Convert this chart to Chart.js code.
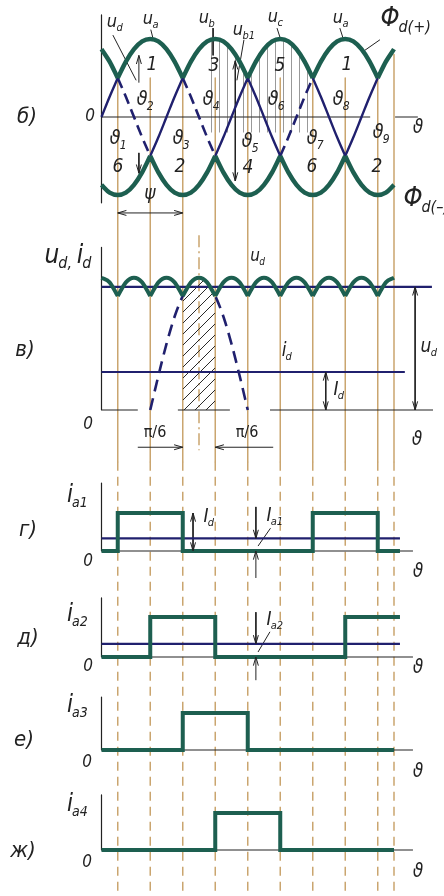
<!DOCTYPE html>
<html>
<head>
<meta charset="utf-8">
<script src="https://cdn.jsdelivr.net/npm/chart.js@4.4.1/dist/chart.umd.min.js"></script>
<style>
  html, body { margin: 0; padding: 0; background: #fff; overflow: hidden; }
  canvas { display: block; }
</style>
</head>
<body>
<canvas id="diagram" width="444" height="896"></canvas>
<script>
// ---------- waveform data (angles in electrical degrees) ----------
const STEP = 15;                      // sample spacing of the phase waveform
const thetaRange = [0, 540];
// one period of a phase voltage, per unit of its peak, every 15°
const phaseWave = [0, 0.26, 0.5, 0.71, 0.87, 0.97, 1, 0.97, 0.87, 0.71, 0.5, 0.26,
                   0, -0.26, -0.5, -0.71, -0.87, -0.97, -1, -0.97, -0.87, -0.71, -0.5, -0.26];
const phaseLag = { a: 0, b: 120, c: 240 };
const guideAngles = [30, 90, 150, 210, 270, 330, 390, 450, 510, 540];
const innerLimit = 510;               // inner phase segments start before this angle
const dashedInner = [30, 150, 330];   // inner segments drawn dashed (by start angle)
const humpPair = ['b', 'c'];          // line voltage u_b - u_c shown in panel в
const humpSpan = [90, 270];
const hatchSpanV = [150, 210];        // conduction area hatched in panel в
const hatchSpanB = [195, 390];        // voltage area hatched in panel б
const hatchFloorB = -0.2;
const udMean = 1.62;                  // rectified voltage level U_d
const idLevel = 0.5;                  // load current level I_d
const iaMean = 0.33;                  // mean valve current I_a = I_d / 3
const ia1 = [[0, 0], [30, 1], [150, 0], [390, 1], [510, 0], [551, 0]];
const ia2 = [[0, 0], [90, 1], [210, 0], [450, 1], [551, 1]];
const ia3 = [[0, 0], [150, 1], [270, 0], [540, 0]];
const ia4 = [[0, 0], [210, 1], [330, 0], [540, 0]];

// ---------- page layout ----------
const W = 444, H = 896;
const X_ZERO_PX = 101.5, PX_PER_DEG = 195 / 360;
const PANELS = {
  yB: { zero: 117, unit: 78 },
  yV: { zero: 410, unit: 76 },
  yG: { zero: 551, unit: 38 },
  yD: { zero: 657, unit: 40 },
  yE: { zero: 750, unit: 37 },
  yZ: { zero: 850, unit: 37 }
};
const C = { green: '#1d5f50', navy: '#20206e', tan: '#caa56f', ink: '#222' };
const FONT = '"Liberation Sans Narrow","DejaVu Sans Condensed","DejaVu Sans",sans-serif';

// ---------- derived series ----------
const thetas = [];
for (let t = thetaRange[0]; t <= thetaRange[1]; t += STEP) thetas.push(t);
const keys = Object.keys(phaseLag);
const N = phaseWave.length;
const phase = (p, t) => phaseWave[((((t - phaseLag[p]) / STEP) % N) + N) % N];
const topEnv = t => Math.max(...keys.map(p => phase(p, t)));
const botEnv = t => Math.min(...keys.map(p => phase(p, t)));
const ud = t => topEnv(t) - botEnv(t);
const EPS = 1e-9;

function toData(segs, f) {
  const out = [];
  segs.forEach((s, i) => {
    if (i) out.push({ x: s[0], y: null });
    s.forEach(t => out.push({ x: t, y: f(t) }));
  });
  return out;
}
function pairs(list) {
  const out = [];
  list.forEach((s, i) => {
    if (i) out.push({ x: s[0][0], y: null });
    out.push({ x: s[0][0], y: s[0][1] }, { x: s[1][0], y: s[1][1] });
  });
  return out;
}
function arcsOf(pred) {
  const segs = [];
  keys.forEach(p => {
    let cur = null;
    thetas.forEach(t => {
      if (pred(p, t)) { if (!cur) { cur = []; segs.push(cur); } cur.push(t); }
      else cur = null;
    });
  });
  return segs.filter(s => s.length > 1).sort((a, b) => a[0] - b[0]);
}
const topArcs = arcsOf((p, t) => phase(p, t) >= topEnv(t) - EPS);
const botArcs = arcsOf((p, t) => phase(p, t) <= botEnv(t) + EPS);
const onTop = (p, t) => Math.abs(phase(p, t) - topEnv(t)) < EPS;
const onBot = (p, t) => Math.abs(phase(p, t) - botEnv(t)) < EPS;

// parts of each phase lying between the two envelopes
const innerArcs = [];
keys.forEach(p => {
  let cur = null;
  thetas.forEach((t, i) => {
    const inside = !onTop(p, t) && !onBot(p, t);
    if (inside) {
      if (!cur) { cur = { p, pts: i > 0 ? [thetas[i - 1]] : [] }; innerArcs.push(cur); }
      cur.pts.push(t);
    } else if (cur) { cur.pts.push(t); cur = null; }
  });
});
const innerKept = innerArcs.filter(a => a.pts[0] < innerLimit).sort((a, b) => a.pts[0] - b.pts[0]);
function innerData(dashed) {
  const out = [];
  innerKept.filter(a => dashedInner.includes(a.pts[0]) === dashed).forEach((a, i) => {
    if (i) out.push({ x: a.pts[0], y: null });
    a.pts.forEach(t => out.push({ x: t, y: phase(a.p, t) }));
  });
  return out;
}

// ripple of the rectified voltage, split at commutation cusps
const isCusp = t => keys.filter(p => onTop(p, t)).length > 1 || keys.filter(p => onBot(p, t)).length > 1;
const rippleArcs = [];
{
  let cur = [];
  thetas.forEach(t => {
    cur.push(t);
    if (isCusp(t) && cur.length > 1) { rippleArcs.push(cur); cur = [t]; }
  });
  if (cur.length > 1) rippleArcs.push(cur);
}
const within = (span) => thetas.filter(t => t >= span[0] && t <= span[1]);

// ---------- drawing aids: axes, guides, arrows, leaders ----------
const axes = {
  yB: [[[0, 1.31], [0, -1.10]], [[0, 0], [496, 0]], [[542, 0], [584, 0]]],
  yV: [[[0, 2.14], [0, 0]], [[0, 0], [67, 0]], [[141, 0], [237, 0]], [[311, 0], [612, 0]]],
  yG: [[[0, 1.79], [0, 0]], [[0, 0], [575, 0]]],
  yD: [[[0, 1.48], [0, 0]], [[0, 0], [575, 0]]],
  yE: [[[0, 1.43], [0, 0]], [[0, 0], [575, 0]]],
  yZ: [[[0, 1.49], [0, 0]], [[0, 0], [575, 0]]]
};
const levels = {
  yV: [[[0, udMean], [610, udMean]], [[0, idLevel], [560, idLevel]]],
  yG: [[[0, iaMean], [551, iaMean]]],
  yD: [[[0, iaMean], [551, iaMean]]]
};
const GUIDE_SPLIT = -4.42;   // where guides turn dashed (panel б units)
const arrows = [
  { axis: 'yB', from: [69, 0.44], to: [69, 0.79], heads: 'end' },
  { axis: 'yB', from: [69, -0.46], to: [69, -0.72], heads: 'end' },
  { axis: 'yB', from: [247, 0.72], to: [247, -0.82], heads: 'both' },
  { axis: 'yB', from: [30, -1.23], to: [150, -1.23], heads: 'both' },
  { axis: 'yV', from: [67, -0.49], to: [150, -0.49], heads: 'end' },
  { axis: 'yV', from: [317, -0.49], to: [210, -0.49], heads: 'end' },
  { axis: 'yV', from: [414, idLevel], to: [414, 0], heads: 'both' },
  { axis: 'yV', from: [579, udMean], to: [579, 0], heads: 'both' },
  { axis: 'yG', from: [169, 1], to: [169, 0], heads: 'both' },
  { axis: 'yG', from: [285, 1.16], to: [285, iaMean], heads: 'end' },
  { axis: 'yG', from: [285, -0.71], to: [285, 0], heads: 'end' },
  { axis: 'yD', from: [285, 1.12], to: [285, iaMean], heads: 'end' },
  { axis: 'yD', from: [285, -0.58], to: [285, 0], heads: 'end' }
];
const leaders = [
  { axis: 'yB', from: [21, 1.05], to: [64, 0.47] },
  { axis: 'yB', from: [91, 1.12], to: [95, 1.01] },
  { axis: 'yB', from: [206, 1.14], to: [206, 0.79] },
  { axis: 'yB', from: [263, 0.99], to: [250, 0.47] },
  { axis: 'yB', from: [324, 1.14], to: [330, 1.01] },
  { axis: 'yB', from: [440, 1.14], to: [446, 1.01] },
  { axis: 'yB', from: [514, 0.99], to: [481, 0.83] },
  { axis: 'yG', from: [289, 0.13], to: [312, 0.6] },
  { axis: 'yD', from: [289, 0.125], to: [311, 0.63] }
];

// ---------- text ----------
const labels = [
  // panel б
  { x: 27, y: 117, t: 'б)', s: 22 },
  { x: 90, y: 117, t: '0', s: 17 },
  { x: 418, y: 128, t: 'ϑ', s: 19 },
  { x: 112, y: 22, t: 'u', sub: 'd' },
  { x: 148, y: 19, t: 'u', sub: 'a' },
  { x: 204, y: 18, t: 'u', sub: 'b' },
  { x: 238, y: 30, t: 'u', sub: 'b1' },
  { x: 273, y: 17, t: 'u', sub: 'c' },
  { x: 338, y: 18, t: 'u', sub: 'a' },
  { x: 390, y: 19, t: 'Φ', sub: 'd(+)', s: 27 },
  { x: 413, y: 199, t: 'Φ', sub: 'd(–)', s: 27 },
  { x: 152, y: 65, t: '1', s: 19 }, { x: 214, y: 66, t: '3', s: 19 },
  { x: 280, y: 66, t: '5', s: 19 }, { x: 347, y: 65, t: '1', s: 19 },
  { x: 142, y: 100, t: 'ϑ', sub: '2', s: 20 }, { x: 208, y: 100, t: 'ϑ', sub: '4', s: 20 },
  { x: 273, y: 100, t: 'ϑ', sub: '6', s: 20 }, { x: 338, y: 100, t: 'ϑ', sub: '8', s: 20 },
  { x: 115, y: 139, t: 'ϑ', sub: '1', s: 20 }, { x: 178, y: 139, t: 'ϑ', sub: '3', s: 20 },
  { x: 247, y: 142, t: 'ϑ', sub: '5', s: 20 }, { x: 312, y: 139, t: 'ϑ', sub: '7', s: 20 },
  { x: 378, y: 133, t: 'ϑ', sub: '9', s: 20 },
  { x: 118, y: 167, t: '6', s: 19 }, { x: 180, y: 167, t: '2', s: 19 },
  { x: 248, y: 168, t: '4', s: 19 }, { x: 312, y: 167, t: '6', s: 19 },
  { x: 377, y: 167, t: '2', s: 19 },
  { x: 150, y: 194, t: 'ψ', s: 19 },
  // panel в
  { x: 52, y: 256, t: 'u', sub: 'd,', s: 26 },
  { x: 80, y: 256, t: 'i', sub: 'd', s: 26 },
  { x: 255, y: 257, t: 'u', sub: 'd', s: 17 },
  { x: 25, y: 350, t: 'в)', s: 22 },
  { x: 284, y: 351, t: 'i', sub: 'd', s: 19 },
  { x: 336, y: 390, t: 'I', sub: 'd', s: 19 },
  { x: 426, y: 347, t: 'u', sub: 'd', s: 19 },
  { x: 88, y: 425, t: '0', s: 17 },
  { x: 155, y: 433, t: 'π/6', s: 16, upright: true },
  { x: 247, y: 433, t: 'π/6', s: 16, upright: true },
  { x: 417, y: 440, t: 'ϑ', s: 19 },
  // panel г
  { x: 70, y: 496, t: 'i', sub: 'a1', s: 24 },
  { x: 28, y: 530, t: 'г)', s: 22 },
  { x: 88, y: 562, t: '0', s: 17 },
  { x: 418, y: 572, t: 'ϑ', s: 19 },
  { x: 206, y: 517, t: 'I', sub: 'd', s: 19 },
  { x: 269, y: 516, t: 'I', sub: 'a1', s: 19 },
  // panel д
  { x: 70, y: 615, t: 'i', sub: 'a2', s: 24 },
  { x: 28, y: 638, t: 'д)', s: 22 },
  { x: 88, y: 667, t: '0', s: 17 },
  { x: 418, y: 668, t: 'ϑ', s: 19 },
  { x: 269, y: 620, t: 'I', sub: 'a2', s: 19 },
  // panel е
  { x: 70, y: 706, t: 'i', sub: 'a3', s: 24 },
  { x: 24, y: 740, t: 'е)', s: 22 },
  { x: 87, y: 763, t: '0', s: 17 },
  { x: 418, y: 772, t: 'ϑ', s: 19 },
  // panel ж
  { x: 70, y: 805, t: 'i', sub: 'a4', s: 24 },
  { x: 23, y: 851, t: 'ж)', s: 22 },
  { x: 87, y: 863, t: '0', s: 17 },
  { x: 418, y: 872, t: 'ϑ', s: 19 }
];

// ---------- hatch patterns ----------
function makePattern(w, h, draw) {
  const c = document.createElement('canvas');
  c.width = w; c.height = h;
  const g = c.getContext('2d');
  draw(g);
  return g.createPattern(c, 'repeat');
}
const diagHatch = makePattern(11, 11, g => {
  g.strokeStyle = '#2a2a2a'; g.lineWidth = 1;
  g.beginPath();
  g.moveTo(0, 11); g.lineTo(11, 0);
  g.moveTo(-3, 3); g.lineTo(3, -3);
  g.moveTo(8, 14); g.lineTo(14, 8);
  g.stroke();
});
const vertHatch = makePattern(8, 4, g => {
  g.fillStyle = 'rgba(70,70,70,0.55)';
  g.fillRect(3, 0, 1, 4);
});

// ---------- datasets ----------
function ds(axis, data, opts) {
  return Object.assign({
    type: 'line', xAxisID: 'x', yAxisID: axis, data,
    borderColor: C.ink, borderWidth: 1, pointRadius: 0, pointHoverRadius: 0,
    fill: false, spanGaps: false, tension: 0, order: 5
  }, opts);
}
const curve = { cubicInterpolationMode: 'monotone' };
const datasets = [];

// guide lines through all panels
datasets.push(ds('yB', pairs(guideAngles.map(g => [[g, g === 540 ? 0.8 : 0.5], [g, GUIDE_SPLIT]])),
  { borderColor: C.tan, borderWidth: 1.5, order: 9 }));
datasets.push(ds('yB', pairs(guideAngles.map(g => [[g, GUIDE_SPLIT], [g, -10]])),
  { borderColor: C.tan, borderWidth: 1.5, borderDash: [9, 6], order: 9 }));
datasets.push(ds('yV', pairs([[[180, 2.3], [180, -0.53]]]),
  { borderColor: C.tan, borderWidth: 1.5, borderDash: [12, 4, 2, 4], order: 9 }));

// axes
Object.keys(axes).forEach(k => datasets.push(ds(k, pairs(axes[k]), { borderWidth: 1.2, order: 8 })));

// hatched areas
datasets.push(ds('yB', within(hatchSpanB).map(t => ({ x: t, y: topEnv(t) })),
  { borderWidth: 0, borderColor: 'rgba(0,0,0,0)', fill: { value: hatchFloorB }, backgroundColor: vertHatch, order: 7 }));
datasets.push(ds('yV', within(hatchSpanV).map(t => ({ x: t, y: ud(t) })),
  Object.assign({ borderWidth: 0, borderColor: 'rgba(0,0,0,0)', fill: 'origin', backgroundColor: diagHatch, order: 7 }, curve)));

// arrows and leader lines
Object.keys(PANELS).forEach(k => {
  const segs = arrows.filter(a => a.axis === k).map(a => [a.from, a.to])
    .concat(leaders.filter(l => l.axis === k).map(l => [l.from, l.to]));
  if (segs.length) datasets.push(ds(k, pairs(segs), { borderWidth: 1, order: 6 }));
});

// phase voltages between the envelopes
datasets.push(ds('yB', innerData(false), Object.assign({ borderColor: C.navy, borderWidth: 2.4, order: 4 }, curve)));
datasets.push(ds('yB', innerData(true), Object.assign({ borderColor: C.navy, borderWidth: 2.6, borderDash: [11, 6], order: 4 }, curve)));
// line voltage hump in в
datasets.push(ds('yV', within(humpSpan).map(t => ({ x: t, y: phase(humpPair[0], t) - phase(humpPair[1], t) })),
  Object.assign({ borderColor: C.navy, borderWidth: 2.6, borderDash: [12, 7], order: 4 }, curve)));

// level lines
Object.keys(levels).forEach(k => datasets.push(ds(k, pairs(levels[k]), { borderColor: C.navy, borderWidth: 2.2, order: 3 })));

// potential envelopes Φd(+) and Φd(-)
datasets.push(ds('yB', toData(topArcs, topEnv), Object.assign({ borderColor: C.green, borderWidth: 4.5, order: 1 }, curve)));
datasets.push(ds('yB', toData(botArcs, botEnv), Object.assign({ borderColor: C.green, borderWidth: 4.5, order: 1 }, curve)));
// rectified voltage u_d
datasets.push(ds('yV', toData(rippleArcs, ud), Object.assign({ borderColor: C.green, borderWidth: 4, order: 1 }, curve)));

// valve currents
[['yG', ia1], ['yD', ia2], ['yE', ia3], ['yZ', ia4]].forEach(([k, steps]) => {
  datasets.push(ds(k, steps.map(([x, y]) => ({ x, y })),
    { borderColor: C.green, borderWidth: 4, stepped: true, order: 1, borderJoinStyle: 'miter' }));
});

// ---------- scales ----------
const scales = {
  x: { type: 'linear', display: false, min: -X_ZERO_PX / PX_PER_DEG, max: (W - X_ZERO_PX) / PX_PER_DEG, bounds: 'data' }
};
Object.keys(PANELS).forEach(k => {
  const p = PANELS[k];
  scales[k] = { type: 'linear', display: false, position: 'left', bounds: 'data',
    min: -(H - p.zero) / p.unit, max: p.zero / p.unit };
});

// ---------- plugin: arrowheads and lettering ----------
const annotate = {
  id: 'annotate',
  afterDatasetsDraw(chart) {
    const ctx = chart.ctx;
    const xs = chart.scales.x;
    ctx.save();
    ctx.strokeStyle = C.ink; ctx.lineWidth = 1;
    const head = (axis, tip, tail) => {
      const ys = chart.scales[axis];
      const px = xs.getPixelForValue(tip[0]), py = ys.getPixelForValue(tip[1]);
      const qx = xs.getPixelForValue(tail[0]), qy = ys.getPixelForValue(tail[1]);
      const ang = Math.atan2(py - qy, px - qx), L = 9, sp = 0.28;
      ctx.beginPath();
      ctx.moveTo(px - L * Math.cos(ang - sp), py - L * Math.sin(ang - sp));
      ctx.lineTo(px, py);
      ctx.lineTo(px - L * Math.cos(ang + sp), py - L * Math.sin(ang + sp));
      ctx.stroke();
    };
    arrows.forEach(a => {
      head(a.axis, a.to, a.from);
      if (a.heads === 'both') head(a.axis, a.from, a.to);
    });
    ctx.fillStyle = C.ink;
    ctx.textBaseline = 'middle';
    labels.forEach(L => {
      const s = L.s || 18;
      ctx.font = (L.upright ? '' : 'italic ') + s + 'px ' + FONT;
      ctx.textAlign = 'center';
      ctx.fillText(L.t, L.x, L.y);
      if (L.sub) {
        const w = ctx.measureText(L.t).width;
        const ss = Math.round(s * 0.6);
        ctx.font = 'italic ' + ss + 'px ' + FONT;
        ctx.textAlign = 'left';
        ctx.fillText(L.sub, L.x + w / 2 - s * 0.04, L.y + s * 0.32);
      }
    });
    ctx.restore();
  }
};

new Chart(document.getElementById('diagram'), {
  type: 'line',
  data: { datasets },
  options: {
    responsive: false,
    devicePixelRatio: 1,
    animation: false,
    events: [],
    layout: { padding: 0 },
    plugins: { legend: { display: false }, tooltip: { enabled: false }, title: { display: false } },
    elements: { line: { borderCapStyle: 'butt', borderJoinStyle: 'round' } },
    scales
  },
  plugins: [annotate]
});
</script>
</body>
</html>
